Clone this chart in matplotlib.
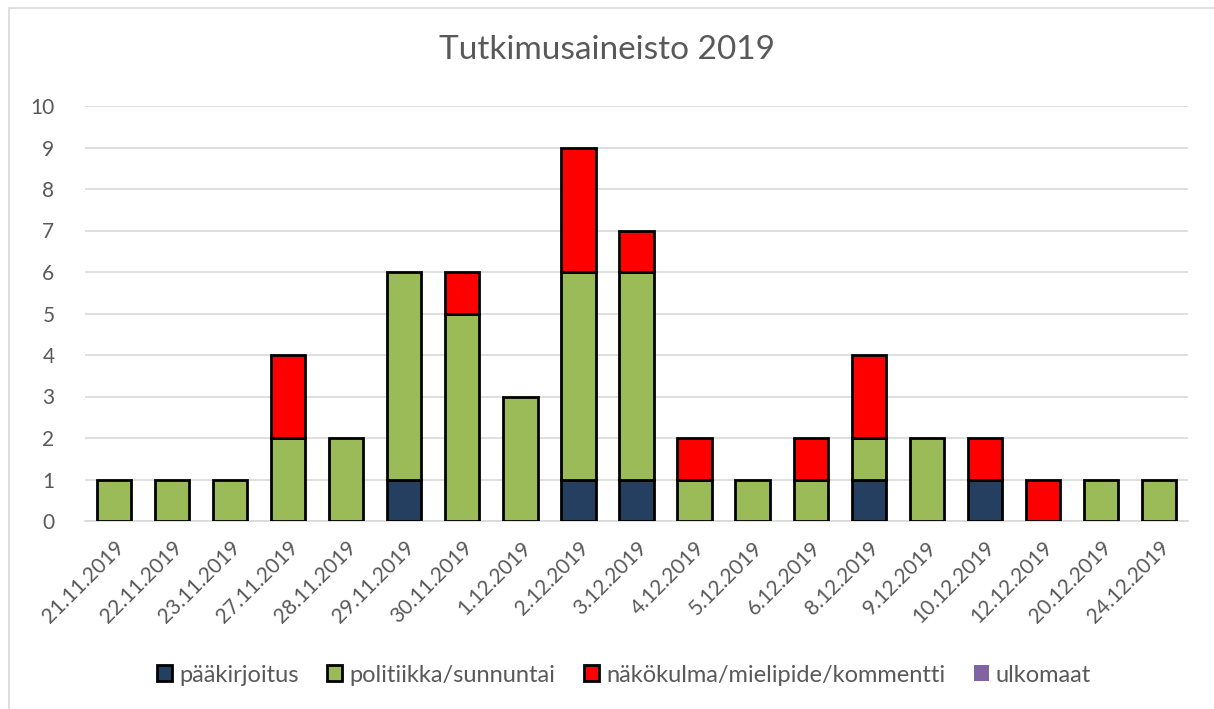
import matplotlib
matplotlib.use("Agg")
import matplotlib.pyplot as plt
import numpy as np
from matplotlib.patches import Rectangle, Patch

dates = ["21.11.2019", "22.11.2019", "23.11.2019", "27.11.2019", "28.11.2019",
         "29.11.2019", "30.11.2019", "1.12.2019", "2.12.2019", "3.12.2019",
         "4.12.2019", "5.12.2019", "6.12.2019", "8.12.2019", "9.12.2019",
         "10.12.2019", "12.12.2019", "20.12.2019", "24.12.2019"]
paakirjoitus = [0, 0, 0, 0, 0, 1, 0, 0, 1, 1, 0, 0, 0, 1, 0, 1, 0, 0, 0]
politiikka = [1, 1, 1, 2, 2, 5, 5, 3, 5, 5, 1, 1, 1, 1, 2, 0, 0, 1, 1]
nakokulma = [0, 0, 0, 2, 0, 0, 1, 0, 3, 1, 1, 0, 1, 2, 0, 1, 1, 0, 0]
ulkomaat = [0] * 19

series = [
    ("pääkirjoitus", paakirjoitus, "#243F60"),
    ("politiikka/sunnuntai", politiikka, "#9BBB59"),
    ("näkökulma/mielipide/kommentti", nakokulma, "#FF0000"),
    ("ulkomaat", ulkomaat, "#8064A2"),
]

plt.rcParams['font.family'] = ['Lato', 'DejaVu Sans']
txt = "#595959"

fig = plt.figure(figsize=(12.14, 7.09), dpi=100)
fig.patches.append(Rectangle((9 / 1214, -0.1), 1.2, (709 - 8) / 709 + 0.1,
                             transform=fig.transFigure, fill=False,
                             edgecolor="#D9D9D9", linewidth=1.2))
ax = fig.add_axes([85 / 1214, (709 - 521) / 709, (1188 - 85) / 1214, (521 - 106) / 709])

x = np.arange(len(dates))
bottom = np.zeros(len(dates))
handles = []
for name, vals, col in series:
    v = np.array(vals, dtype=float)
    mask = v > 0
    if mask.any():
        ax.bar(x[mask], v[mask], bottom=bottom[mask], width=0.59, color=col,
               edgecolor="black", linewidth=2, zorder=3)
        handles.append(Patch(facecolor=col, edgecolor="black", linewidth=2, label=name))
    else:
        handles.append(Patch(facecolor=col, edgecolor="none", label=name))
    bottom += v

ax.set_xlim(-0.5, len(dates) - 0.5)
ax.set_ylim(0, 10)
ax.set_yticks(range(0, 11))
ax.yaxis.grid(True, color="#D9D9D9", linewidth=1.2, zorder=0)
ax.set_axisbelow(True)
for s in ["top", "right", "left"]:
    ax.spines[s].set_visible(False)
ax.spines["bottom"].set_color("#D9D9D9")
ax.spines["bottom"].set_linewidth(1.2)
ax.tick_params(axis="both", length=0, labelsize=15, labelcolor=txt)
ax.tick_params(axis="y", pad=22)
ax.set_xticks(x)
ax.set_xticklabels(dates, rotation=45, ha="right", rotation_mode="anchor")
ax.tick_params(axis="x", pad=12)

fig.text(0.5, 1 - 50 / 709, "Tutkimusaineisto 2019", ha="center", va="center",
         fontsize=24, color=txt)

fig.legend(handles=handles, loc="center", bbox_to_anchor=(624 / 1214, 1 - 675 / 709),
           ncol=4, frameon=False, fontsize=17, labelcolor=txt,
           handlelength=0.65, handleheight=0.65, handletextpad=0.3, columnspacing=1.2)

fig.savefig("out.png", dpi=100)
